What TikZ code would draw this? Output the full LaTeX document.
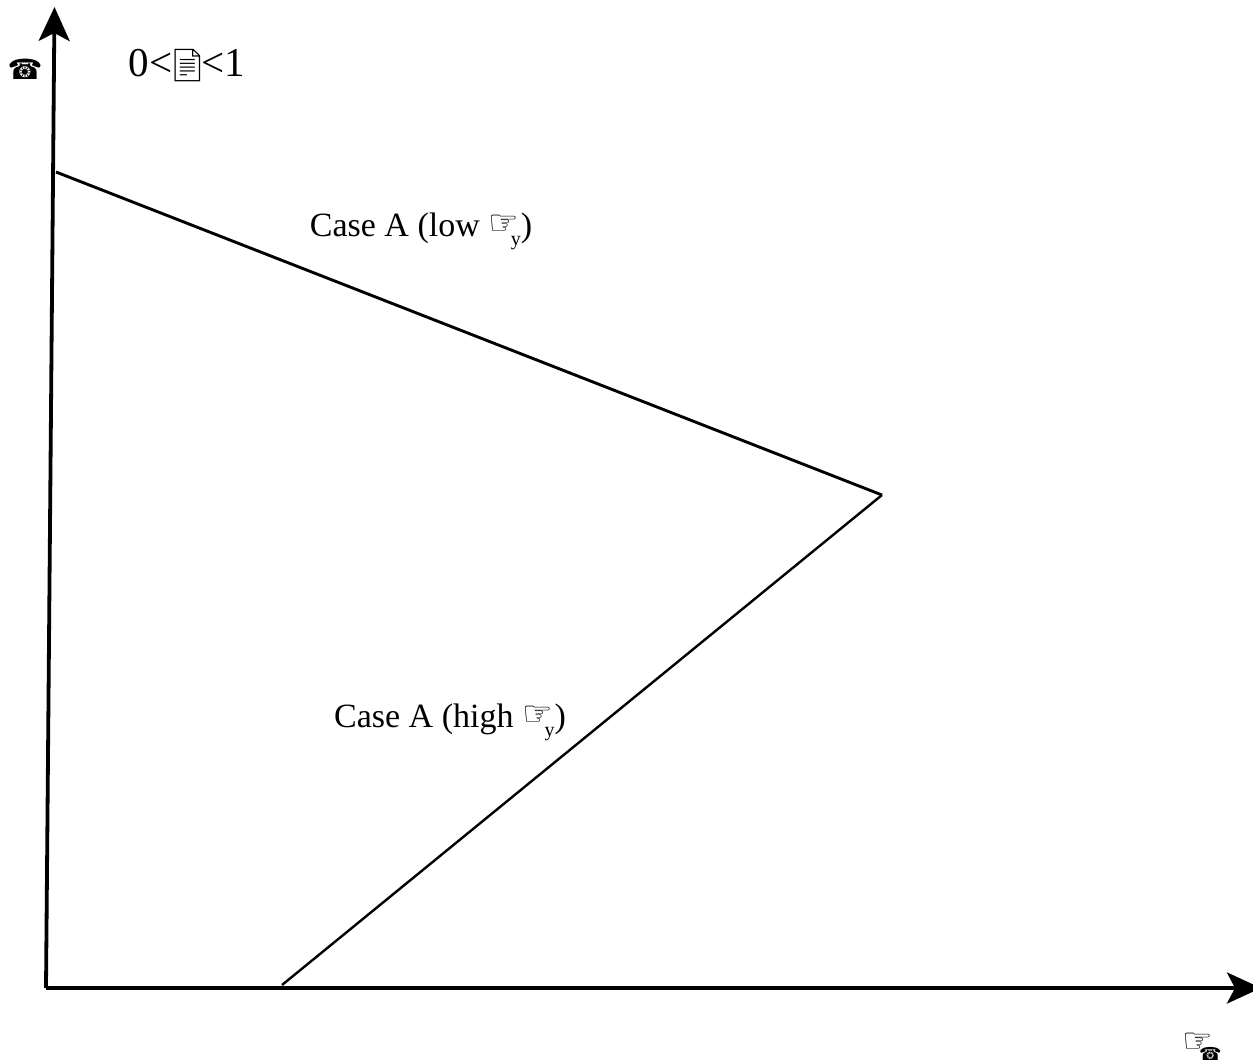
\documentclass[tikz,border=0pt]{standalone}
\usepackage{fontspec}
\setmainfont{Liberation Serif}
\newfontfamily\symfont{DejaVu Sans}
\newfontfamily\emofont{Noto Emoji}
\usetikzlibrary{arrows.meta,positioning}
\newcommand{\phonesym}{{\symfont\char"260E}}
\newcommand{\handsym}{{\symfont\char"261E}}
\newcommand{\docsym}{{\fontsize{32}{34}\selectfont\emofont\char"1F4C4}}
\newcommand{\handsub}{\raisebox{2pt}{\handsym}\hspace{-8pt}\raisebox{-9pt}{\fontsize{20}{22}\selectfont y}}
\begin{document}
\begin{tikzpicture}[x=1pt,y=-1pt,>={Stealth[length=34pt,width=31pt,inset=8pt]}]
\tikzset{
 axis/.style={->,line width=3.8pt},
 bound/.style={line width=2.9pt},
 lbl/.style={inner sep=0pt,font=\fontsize{34}{40}\selectfont}
}
\useasboundingbox (0,0) rectangle (1253,1063);
\coordinate (o) at (46,988);
\coordinate (ytop) at (54.5,7);
\coordinate (xend) at (1261,988);
\coordinate (ya) at (56,172);
\coordinate (apex) at (882,495);
\coordinate (xb) at (282,985);
\draw[axis] (o)--(ytop);
\draw[axis] (o)--(xend);
\draw[bound] (ya)--(apex);
\draw[line width=2.4pt] (xb)--(apex);
\node[lbl,font=\fontsize{28}{30}\selectfont] (ylab) at (25,69) {\phonesym};
\node[lbl,font=\fontsize{41}{44}\selectfont] (cond) at (187,66) {0<\hspace{-5pt}\docsym\hspace{-6pt}<1};
\node[lbl] (low) at (421,231) {Case A (low \handsub)};
\node[lbl] (high) at (450,722) {Case A (high \handsub)};
\node[lbl] (xlab) at (1202,1047) {\raisebox{4pt}{\handsym}\hspace{-14pt}\raisebox{-4pt}{\fontsize{18}{20}\selectfont\phonesym}};
\end{tikzpicture}
\end{document}
